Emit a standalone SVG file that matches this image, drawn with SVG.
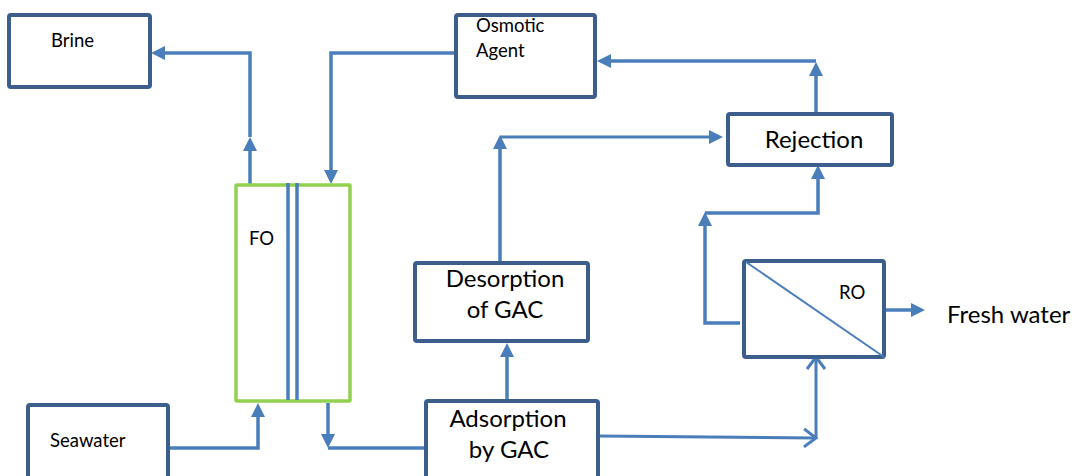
<svg xmlns="http://www.w3.org/2000/svg" width="1081" height="476" viewBox="0 0 1081 476">
<style>
.box{fill:#fff;stroke:#3b5e8c;stroke-width:4;}
.fo{fill:#fff;stroke:#92d050;stroke-width:3.5;}
.c{fill:none;stroke:#4a7ebb;stroke-width:3.5;}
.c2{fill:none;stroke:#4a7ebb;stroke-width:3;}
.t{font-family:Lato,"Liberation Sans",sans-serif;fill:#000;}
.s{font-size:18.5px;}
.l{font-size:24px;}
</style>
<defs>
<marker id="ah" markerUnits="userSpaceOnUse" markerWidth="14" markerHeight="14" refX="10" refY="7" orient="auto">
<path d="M0,0 L14,7 L0,14 z" fill="#4a7ebb"/>
</marker>
<marker id="ch" markerUnits="userSpaceOnUse" markerWidth="16" markerHeight="20" refX="13" refY="10" orient="auto">
<path d="M1,1 L13,10 L1,19" fill="none" stroke="#4a7ebb" stroke-width="3"/>
</marker>
</defs>

<g id="connectors">
<path class="c" d="M250,184 L250,141" marker-end="url(#ah)"/>
<path class="c" d="M250,137 L250,53 L155,53" marker-end="url(#ah)"/>
<path class="c" d="M455,53 L331,53 L331,180" marker-end="url(#ah)"/>
<path class="c" d="M816,113 L816,66" marker-end="url(#ah)"/>
<path class="c" d="M816,61 L601,61" marker-end="url(#ah)"/>
<path class="c" d="M500,263 L500,139" marker-end="url(#ah)"/>
<path class="c2" d="M500,137 L719,137" marker-end="url(#ah)"/>
<path class="c" d="M740,323 L705,323 L705,216" marker-end="url(#ah)"/>
<path class="c" d="M705,213 L818,213 L818,169" marker-end="url(#ah)"/>
<path class="c" d="M886,310 L921,310" marker-end="url(#ah)"/>
<path class="c2" d="M599,436 L816,438" marker-end="url(#ch)"/>
<path class="c2" d="M816,438 L816,357" marker-end="url(#ch)"/>
<path class="c" d="M507,401 L507,347" marker-end="url(#ah)"/>
<path class="c" d="M168,448 L258,448 L258,407" marker-end="url(#ah)"/>
<path class="c" d="M328,403 L328,444" marker-end="url(#ah)"/>
<path class="c" d="M328,448 L425,448"/>
</g>

<g id="brine">
<rect class="box" x="9" y="15" width="141" height="72" rx="2"/>
<text class="t s" x="51" y="47">Brine</text>
</g>
<g id="osmotic-agent">
<rect class="box" x="456" y="15" width="139" height="82" rx="2"/>
<text class="t s" x="476" y="32">Osmotic</text>
<text class="t s" x="476" y="57">Agent</text>
</g>
<g id="rejection">
<rect class="box" x="728" y="114" width="164" height="51" rx="2"/>
<text class="t l" x="814" y="148" text-anchor="middle">Rejection</text>
</g>
<g id="fo">
<rect class="fo" x="236" y="185" width="114" height="216" rx="1"/>
<line class="c" x1="288" y1="183" x2="288" y2="400"/>
<line class="c" x1="297" y1="183" x2="297" y2="400"/>
<text class="t s" x="249" y="245">FO</text>
</g>
<g id="desorption">
<rect class="box" x="415" y="263" width="173" height="78" rx="2"/>
<text class="t l" x="505" y="287" text-anchor="middle">Desorption</text>
<text class="t l" x="505" y="318" text-anchor="middle">of GAC</text>
</g>
<g id="adsorption">
<rect class="box" x="426" y="401" width="172" height="90" rx="2"/>
<text class="t l" x="508" y="427" text-anchor="middle">Adsorption</text>
<text class="t l" x="509" y="458" text-anchor="middle">by GAC</text>
</g>
<g id="ro">
<rect class="box" x="744" y="261" width="140" height="96" rx="2"/>
<line x1="746" y1="262" x2="884" y2="357" stroke="#4a7ebb" stroke-width="2"/>
<text class="t s" x="839" y="299">RO</text>
</g>
<g id="fresh-water">
<text class="t l" x="947" y="323">Fresh water</text>
</g>
<g id="seawater">
<rect class="box" x="28" y="405" width="140" height="90" rx="2"/>
<text class="t s" x="50" y="447">Seawater</text>
</g>
</svg>
